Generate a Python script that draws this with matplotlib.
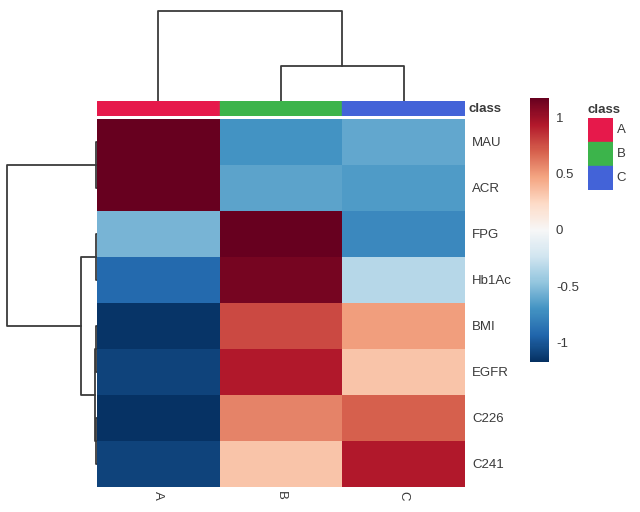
import matplotlib
matplotlib.use("Agg")
import matplotlib.pyplot as plt
import numpy as np

plt.rcParams['font.family'] = ['Liberation Sans', 'DejaVu Sans']

# dados
features = ['MAU', 'ACR', 'FPG', 'Hb1Ac', 'BMI', 'EGFR', 'C226', 'C241']
groups = ['A', 'B', 'C']
vals_A = [1.25, 1.25, -0.54, -0.91, -1.15, -1.08, -1.16, -1.08]
vals_B = [-0.70, -0.63, 1.25, 1.12, 0.77, 0.94, 0.58, 0.33]
vals_C = [-0.61, -0.66, -0.75, -0.33, 0.49, 0.33, 0.70, 0.94]
class_colors = ['#e6194b', '#3cb44b', '#4363d8']

# ligacoes (filho1, filho2, altura)
col_links = [(1, 2, 35), (0, 3, 90)]
row_links = [(0, 1, 1.0), (2, 3, 1.5), (4, 5, 1.0), (6, 7, 1.0),
             (10, 11, 2.5), (9, 12, 16), (8, 13, 90)]

cb_ticks = [-1, -0.5, 0, 0.5, 1]
cb_labels = ['-1', '-0.5', '0', '0.5', '1']

W, H = 640, 512
def px(l, t, w, h):
    return [l / W, 1 - (t + h) / H, w / W, h / H]

def dendro(ax, links, n, orient='top'):
    pos = {i: (i + 0.5, 0.0) for i in range(n)}
    k = n
    for a, b, h in links:
        pa, ha = pos[a]
        pb, hb = pos[b]
        xs = [pa, pa, pb, pb]
        ys = [ha, h, h, hb]
        if orient == 'top':
            ax.plot(xs, ys, color='#3a3a3a', lw=1.3)
        else:
            ax.plot(ys, xs, color='#3a3a3a', lw=1.3)
        pos[k] = ((pa + pb) / 2, h)
        k += 1

data = np.column_stack([vals_A, vals_B, vals_C])
txt = '#3a3a3a'
fs = 9.5

fig = plt.figure(figsize=(6.4, 5.12), dpi=100)

# heatmap
ax = fig.add_axes(px(97, 119, 368, 368))
mesh = ax.pcolormesh(data, cmap='RdBu_r', vmin=-1.17, vmax=1.17)
ax.set_xlim(0, 3)
ax.set_ylim(8, 0)
ax.set_xticks(np.arange(3) + 0.5)
ax.set_xticklabels(groups, rotation=-90, fontsize=fs, color=txt)
ax.yaxis.tick_right()
ax.set_yticks(np.arange(8) + 0.5)
ax.set_yticklabels(features, fontsize=fs, color=txt)
ax.tick_params(axis='y', length=0, pad=5)
ax.tick_params(axis='x', length=0, pad=3)
for s in ax.spines.values():
    s.set_visible(False)

# barra de classe
axc = fig.add_axes(px(97, 101, 368, 15))
for i, c in enumerate(class_colors):
    axc.axvspan(i, i + 1, color=c)
axc.set_xlim(0, 3)
axc.set_xticks([])
axc.set_yticks([])
for s in axc.spines.values():
    s.set_visible(False)
axc.text(1.01, 0.45, 'class', transform=axc.transAxes, fontsize=fs,
         fontweight='bold', color=txt, va='center', ha='left')

# dendrograma topo
axt = fig.add_axes(px(97, 0, 368, 101))
dendro(axt, col_links, 3, 'top')
axt.set_xlim(0, 3)
axt.set_ylim(0, 101)
axt.axis('off')

# dendrograma esquerda
axl = fig.add_axes(px(0, 119, 97, 368))
dendro(axl, row_links, 8, 'left')
axl.set_xlim(97, 0)
axl.set_ylim(8, 0)
axl.axis('off')

# colorbar
cax = fig.add_axes(px(530, 98, 19, 264))
cb = fig.colorbar(mesh, cax=cax, ticks=cb_ticks)
cb.ax.set_yticklabels(cb_labels, fontsize=fs, color=txt)
cb.ax.tick_params(length=0, pad=5)
cb.outline.set_visible(False)

# legenda da classe
axg = fig.add_axes(px(588, 118, 25, 72))
for i, c in enumerate(class_colors):
    axg.axhspan(i, i + 1, color=c)
    axg.text(1.15, i + 0.5, groups[i], fontsize=fs, color=txt,
             va='center', ha='left', transform=axg.get_yaxis_transform())
axg.set_ylim(3, 0)
axg.set_xlim(0, 1)
axg.set_xticks([])
axg.set_yticks([])
for s in axg.spines.values():
    s.set_visible(False)
axg.text(0.0, 1.03, 'class', transform=axg.transAxes, fontsize=fs,
         fontweight='bold', color=txt, va='bottom', ha='left')

fig.savefig('out.png', dpi=100)
